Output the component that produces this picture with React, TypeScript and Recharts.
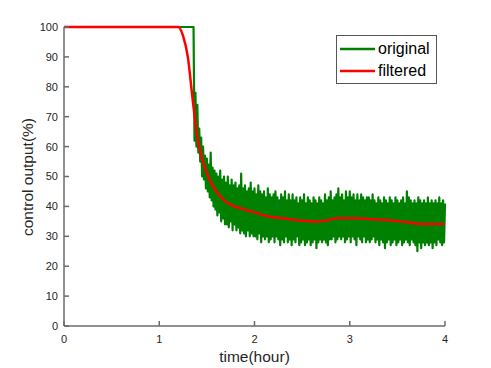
import React from "react";
import { LineChart, Line, XAxis, YAxis, Legend } from "recharts";

// step response: flat part of the raw signal, then the noisy part sampled every 0.01 h
const originalFlat = [
  { t: 0, v: 100 },
  { t: 1.36, v: 100 },
];
const noiseStart = 1.37;
const noiseStep = 0.01;
const originalNoisy = [
  62, 78, 60,
  74, 58, 66, 55, 63, 50, 60, 49, 57, 46,
  56, 45, 54, 43, 58, 42, 53, 40, 52, 39,
  51, 37, 50, 38, 52, 35, 49, 36, 50, 34,
  48, 34, 50, 33, 47, 35, 49, 32, 47, 34,
  48, 32, 46, 33, 47, 31, 51, 32, 46, 31,
  47, 30, 45, 32, 46, 30, 48, 31, 45, 30,
  46, 30, 44, 29, 47, 31, 45, 28, 44, 30,
  45, 29, 43, 30, 46, 28, 44, 29, 43, 30,
  44, 28, 45, 30, 43, 29, 42, 27, 44, 29,
  43, 28, 45, 30, 42, 28, 44, 29, 42, 27,
  44, 29, 42, 28, 43, 30, 41, 27, 43, 28,
  42, 29, 44, 27, 41, 28, 43, 29, 42, 27,
  41, 28, 43, 29, 42, 26, 41, 28, 43, 29,
  42, 28, 41, 29, 44, 28, 42, 27, 43, 29,
  45, 29, 42, 30, 43, 28, 44, 29, 46, 30,
  43, 29, 44, 30, 42, 28, 45, 29, 43, 30,
  45, 28, 43, 30, 44, 29, 42, 27, 44, 30,
  42, 29, 44, 28, 43, 30, 42, 28, 43, 29,
  43, 28, 42, 29, 44, 30, 42, 28, 41, 29,
  43, 27, 42, 29, 41, 28, 43, 26, 42, 28,
  41, 29, 43, 27, 42, 28, 41, 29, 43, 27,
  42, 28, 41, 29, 42, 27, 43, 28, 41, 29,
  45, 28, 43, 27, 42, 29, 41, 28, 42, 27,
  41, 25, 43, 28, 42, 26, 41, 28, 42, 27,
  41, 28, 43, 27, 41, 28, 42, 26, 41, 28,
  42, 27, 41, 29, 43, 28, 41, 27, 42, 28,
  41,
];

const filteredTimes = [
  0, 1.2, 1.25, 1.3, 1.35, 1.4, 1.45, 1.5, 1.6, 1.7, 1.85, 2.0, 2.15, 2.3,
  2.5, 2.65, 2.75, 2.9, 3.05, 3.2, 3.45, 3.6, 3.75, 4.0,
];
const filteredValues = [
  100, 100, 97, 90, 76, 63, 56, 51, 45, 41.5, 39.4, 38, 36.6, 36, 35.2, 34.9,
  35.3, 36.1, 36, 35.8, 35.3, 34.7, 34.1, 34.1,
];

const xTicks = [0, 1, 2, 3, 4];
const yTicks = [0, 10, 20, 30, 40, 50, 60, 70, 80, 90, 100];

const originalData = [
  ...originalFlat,
  ...originalNoisy.map((v, i) => ({ t: +(noiseStart + i * noiseStep).toFixed(2), v })),
];
const filteredData = filteredTimes.map((t, i) => ({ t, v: filteredValues[i] }));

const FONT = '"Liberation Sans", Arial, sans-serif';
const AXIS = "#6b6b6b";
const TEXT = "#262626";

const YLabel = () => (
  <text
    x={27}
    y={177}
    transform="rotate(-90 27 177)"
    textAnchor="middle"
    dominantBaseline="central"
    fontSize={15.5}
    fill={TEXT}
    fontFamily={FONT}
  >
    control output(%)
  </text>
);

const LegendBox = () => (
  <div
    style={{
      border: "1px solid #555",
      background: "#fff",
      padding: "2px 6px 1px 3px",
      fontFamily: FONT,
      fontSize: 16,
      color: "#000",
    }}
  >
    {[
      { name: "original", color: "#008000" },
      { name: "filtered", color: "#ff0000" },
    ].map((it) => (
      <div key={it.name} style={{ display: "flex", alignItems: "center", height: 22 }}>
        <svg width={35} height={4} style={{ marginRight: 3 }}>
          <line x1={0} y1={2} x2={35} y2={2} stroke={it.color} strokeWidth={2.5} />
        </svg>
        <span>{it.name}</span>
      </div>
    ))}
  </div>
);

export default function App() {
  return (
    <div style={{ position: "absolute", left: 0, top: 0, width: 491, height: 368, background: "#fff" }}>
      <LineChart
        width={491}
        height={368}
        margin={{ top: 27, right: 46, left: 0, bottom: 0 }}
        style={{ fontFamily: FONT }}
      >
        <XAxis
          type="number"
          dataKey="t"
          domain={[0, 4]}
          ticks={xTicks}
          height={42}
          tickSize={-5}
          tickMargin={14}
          stroke={AXIS}
          strokeWidth={1.5}
          tick={{ fill: TEXT, fontSize: 11 }}
          allowDuplicatedCategory={false}
          label={{ value: "time(hour)", position: "insideBottom", offset: 6, fill: TEXT, fontSize: 15.5 }}
        />
        <YAxis
          type="number"
          domain={[0, 100]}
          ticks={yTicks}
          width={64}
          tickSize={-5}
          tickMargin={11}
          stroke={AXIS}
          strokeWidth={1.5}
          tick={{ fill: TEXT, fontSize: 11 }}
          label={<YLabel />}
        />
        {/* vertical + center + middle keeps the legend from shrinking the plot area */}
        <Legend
          layout="vertical"
          verticalAlign="middle"
          align="center"
          content={<LegendBox />}
          wrapperStyle={{ left: 336, top: 35, right: "auto", bottom: "auto", width: "auto" }}
        />
        <Line
          data={originalData}
          dataKey="v"
          name="original"
          stroke="#008000"
          strokeWidth={2.2}
          strokeLinejoin="round"
          dot={false}
          type="linear"
          isAnimationActive={false}
        />
        <Line
          data={filteredData}
          dataKey="v"
          name="filtered"
          stroke="#ff0000"
          strokeWidth={2.5}
          dot={false}
          type="monotone"
          isAnimationActive={false}
        />
      </LineChart>
    </div>
  );
}
